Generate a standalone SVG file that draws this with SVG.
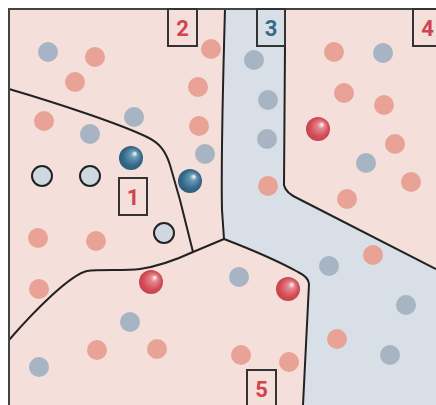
<svg xmlns="http://www.w3.org/2000/svg" width="436" height="405" viewBox="0 0 436 405">
<defs>
<radialGradient id="gBlue" cx="0.5" cy="0.5" r="0.55" fx="0.68" fy="0.3">
<stop offset="0" stop-color="#ffffff"/>
<stop offset="0.25" stop-color="#6a9bb5"/>
<stop offset="0.7" stop-color="#34698a"/>
<stop offset="1" stop-color="#2a5a78"/>
</radialGradient>
<radialGradient id="gRed" cx="0.5" cy="0.5" r="0.55" fx="0.68" fy="0.3">
<stop offset="0" stop-color="#ffffff"/>
<stop offset="0.25" stop-color="#e58a90"/>
<stop offset="0.7" stop-color="#d24c57"/>
<stop offset="1" stop-color="#c2404b"/>
</radialGradient>
<style>
.bg{fill:#f5dfda}
.blue{fill:#d9dfe6}
.line{fill:none;stroke:#222;stroke-width:2;stroke-linejoin:round}
.frame{fill:none;stroke:#444;stroke-width:2}
.box{stroke:#333;stroke-width:2}
.p{fill:#e8a396}
.b{fill:#a6b4c3}
.o{fill:#cfd8e2;stroke:#222;stroke-width:2}
.sb{fill:url(#gBlue)}
.sr{fill:url(#gRed)}
.lbl{font-family:Roboto,"Liberation Sans",sans-serif;font-weight:bold;font-size:22px;text-anchor:middle}
.red{fill:#d0434f}
.blt{fill:#336c89}
</style>
</defs>
<rect x="0" y="0" width="436" height="405" fill="#ffffff"/>
<rect class="bg" x="9" y="9" width="427" height="396"/>
<path class="blue" d="M225,9 C223,80 221,160 222,210 L224,239 C250,249 280,262 298,272 C304,275 309,279 309,284 L303,405 L436,405 L436,269 L299,199 C290,195 285,191 284,185 L285,9 Z"/>

<g id="connectors">
<path class="line" d="M225,9 C223,80 221,160 222,210 L224,239 C250,249 280,262 298,272 C304,275 309,279 309,284 L303,405"/>
<path class="line" d="M285,46 L284,185 C285,191 290,195 299,199 L436,269"/>
<path class="line" d="M9,89 C60,104 120,124 147,137 C160,143 166,152 170,165 L180,200 L193,252"/>
<path class="line" d="M9,340 C35,310 70,275 87,271 C100,269 125,271 140,269 C160,266 180,258 193,252 L224,239"/>
<path class="frame" d="M9,405 L9,9 L436,9"/>
</g>

<g id="dots">
<circle class="b" cx="48" cy="52" r="10"/>
<circle class="p" cx="95" cy="57" r="10"/>
<circle class="p" cx="75" cy="82" r="10"/>
<circle class="p" cx="211" cy="49" r="10"/>
<circle class="p" cx="198" cy="87" r="10"/>
<circle class="b" cx="134" cy="117" r="10"/>
<circle class="p" cx="44" cy="121" r="10"/>
<circle class="b" cx="90" cy="134" r="10"/>
<circle class="p" cx="199" cy="126" r="10"/>
<circle class="b" cx="205" cy="154" r="10"/>
<circle class="sb" cx="131" cy="158" r="12"/>
<circle class="sb" cx="190" cy="181" r="12"/>
<circle class="o" cx="42" cy="176" r="10"/>
<circle class="o" cx="90" cy="176" r="10"/>
<circle class="o" cx="164" cy="233" r="10"/>
<circle class="b" cx="254" cy="60" r="10"/>
<circle class="p" cx="334" cy="52" r="10"/>
<circle class="b" cx="383" cy="53" r="10"/>
<circle class="b" cx="268" cy="100" r="10"/>
<circle class="p" cx="344" cy="93" r="10"/>
<circle class="p" cx="384" cy="105" r="10"/>
<circle class="sr" cx="318" cy="129" r="12"/>
<circle class="b" cx="267" cy="139" r="10"/>
<circle class="p" cx="395" cy="144" r="10"/>
<circle class="b" cx="366" cy="163" r="10"/>
<circle class="p" cx="268" cy="186" r="10"/>
<circle class="p" cx="411" cy="182" r="10"/>
<circle class="p" cx="347" cy="199" r="10"/>
<circle class="p" cx="38" cy="238" r="10"/>
<circle class="p" cx="96" cy="241" r="10"/>
<circle class="p" cx="39" cy="289" r="10"/>
<circle class="sr" cx="151" cy="282" r="12"/>
<circle class="b" cx="130" cy="322" r="10"/>
<circle class="p" cx="97" cy="350" r="10"/>
<circle class="p" cx="157" cy="349" r="10"/>
<circle class="b" cx="39" cy="367" r="10"/>
<circle class="b" cx="239" cy="277" r="10"/>
<circle class="sr" cx="288" cy="289" r="12"/>
<circle class="b" cx="329" cy="266" r="10"/>
<circle class="p" cx="373" cy="255" r="10"/>
<circle class="b" cx="406" cy="305" r="10"/>
<circle class="p" cx="337" cy="339" r="10"/>
<circle class="b" cx="390" cy="355" r="10"/>
<circle class="p" cx="241" cy="355" r="10"/>
<circle class="p" cx="289" cy="362" r="10"/>
</g>

<g id="region1">
<rect class="box bg" x="119" y="178" width="28" height="37"/>
<text class="lbl red" x="133" y="205">1</text>
</g>
<g id="region2">
<rect class="box bg" x="168" y="9" width="29" height="37"/>
<text class="lbl red" x="182.5" y="36">2</text>
</g>
<g id="region3">
<rect class="box blue" x="257" y="9" width="28" height="37"/>
<text class="lbl blt" x="271" y="36">3</text>
</g>
<g id="region4">
<rect class="box bg" x="413" y="9" width="29" height="37"/>
<text class="lbl red" x="427.5" y="36">4</text>
</g>
<g id="region5">
<rect class="box bg" x="247" y="370" width="29" height="40"/>
<text class="lbl red" x="261.5" y="397">5</text>
</g>
</svg>
